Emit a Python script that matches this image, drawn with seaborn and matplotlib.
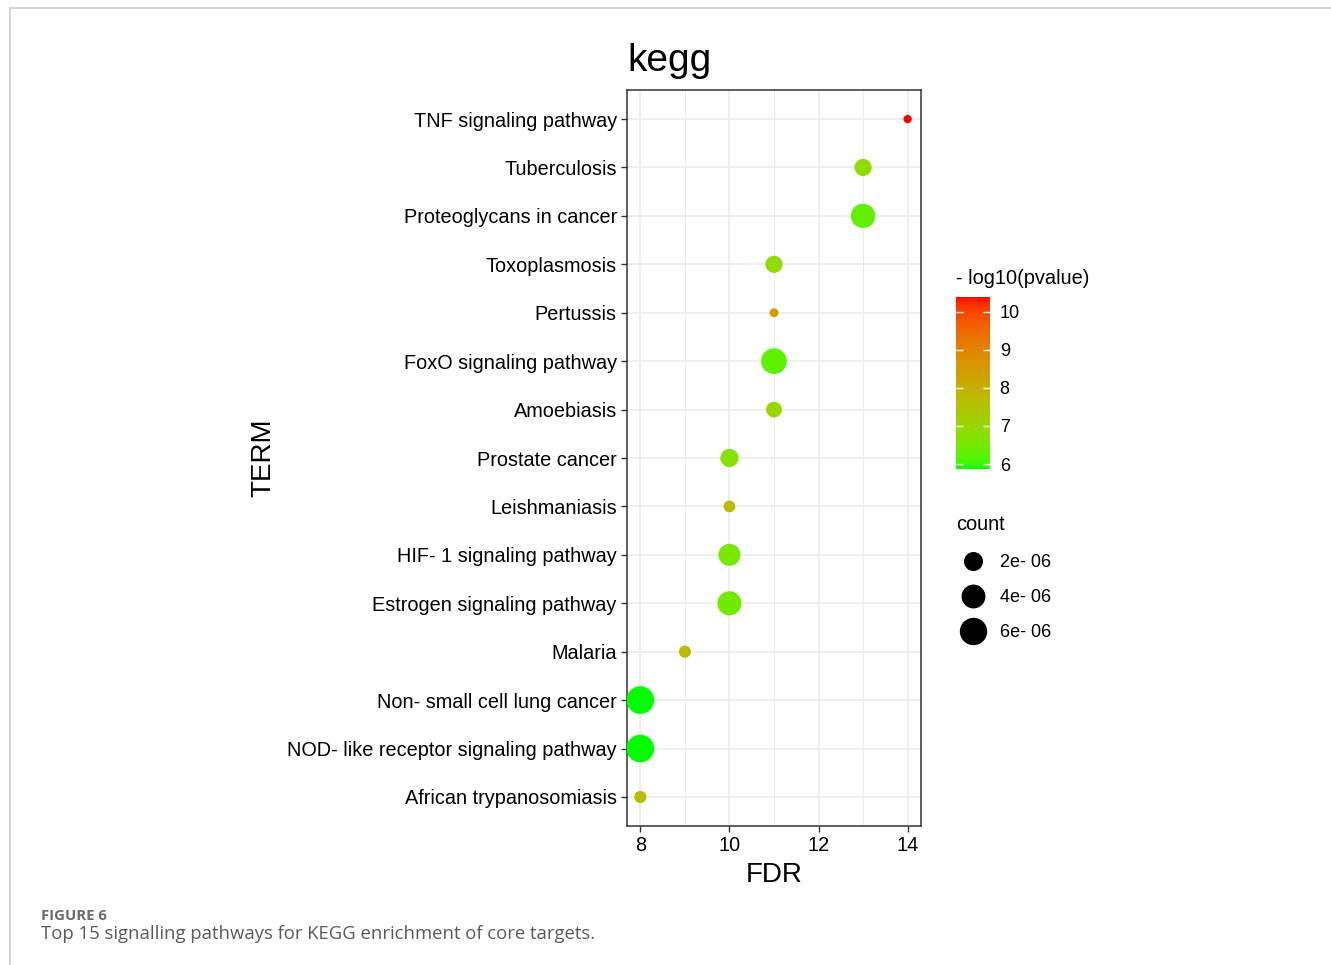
import numpy as np
import pandas as pd
import matplotlib
matplotlib.use("Agg")
import matplotlib.pyplot as plt
import matplotlib.colors as mcolors
from matplotlib.lines import Line2D
from matplotlib.ticker import MultipleLocator
import seaborn as sns

# ---- data (top to bottom) ----
terms = ["TNF signaling pathway", "Tuberculosis", "Proteoglycans in cancer",
         "Toxoplasmosis", "Pertussis", "FoxO signaling pathway", "Amoebiasis",
         "Prostate cancer", "Leishmaniasis", "HIF- 1 signaling pathway",
         "Estrogen signaling pathway", "Malaria", "Non- small cell lung cancer",
         "NOD- like receptor signaling pathway", "African trypanosomiasis"]
fdr = [14, 13, 13, 11, 11, 11, 11, 10, 10, 10, 10, 9, 8, 8, 8]
neglog_p = [10.39, 6.85, 6.3, 6.9, 8.5, 6.25, 6.95, 6.7, 7.7, 6.55, 6.45, 7.7, 5.87, 5.87, 7.7]
count = [0.02e-6, 1.43e-6, 4.27e-6, 1.43e-6, 0.06e-6, 5.02e-6, 1.07e-6, 1.74e-6,
         0.33e-6, 3.17e-6, 4.12e-6, 0.39e-6, 6.2e-6, 6.2e-6, 0.39e-6]
count_breaks = [2e-6, 4e-6, 6e-6]
count_labels = ["2e- 06", "4e- 06", "6e- 06"]
color_ticks = [6, 7, 8, 9, 10]

df = pd.DataFrame({"TERM": terms, "FDR": fdr, "nlp": neglog_p, "count": count})


# green -> red gradient interpolated in CIELAB (like ggplot's scale_colour_gradient)
M = np.array([[0.4124, 0.3576, 0.1805], [0.2126, 0.7152, 0.0722], [0.0193, 0.1192, 0.9505]])
WHITE = np.array([0.95047, 1.0, 1.08883])

def to_lab(rgb):
    c = np.asarray(rgb, float)
    c = np.where(c > 0.04045, ((c + 0.055) / 1.055) ** 2.4, c / 12.92)
    xyz = M @ c / WHITE
    f = np.where(xyz > 0.008856, np.cbrt(xyz), 7.787 * xyz + 16 / 116)
    return np.array([116 * f[1] - 16, 500 * (f[0] - f[1]), 200 * (f[1] - f[2])])

def from_lab(lab):
    L, a, b = lab
    fy = (L + 16) / 116
    f = np.array([fy + a / 500, fy, fy - b / 200])
    xyz = np.where(f ** 3 > 0.008856, f ** 3, (f - 16 / 116) / 7.787) * WHITE
    c = np.linalg.solve(M, xyz)
    c = np.clip(c, 0, 1)
    c = np.where(c > 0.0031308, 1.055 * c ** (1 / 2.4) - 0.055, 12.92 * c)
    return np.clip(c, 0, 1)

lab_lo, lab_hi = to_lab([0, 1, 0]), to_lab([1, 0, 0])
cmap = mcolors.ListedColormap([from_lab(lab_lo + t * (lab_hi - lab_lo)) for t in np.linspace(0, 1, 256)])
hue_norm = mcolors.Normalize(vmin=min(neglog_p), vmax=max(neglog_p))
size_norm = mcolors.PowerNorm(gamma=0.75, vmin=0, vmax=max(count))
size_range = (30.6, 397.6)

plt.rcParams["font.family"] = ["Liberation Sans", "DejaVu Sans"]

fig = plt.figure(figsize=(13.31, 9.65), dpi=100)
ax = fig.add_axes([627 / 1331, 1 - 826 / 965, 294 / 1331, 736 / 965])

sns.scatterplot(data=df, x="FDR", y="TERM", hue="nlp", palette=cmap, hue_norm=hue_norm,
                size="count", sizes=size_range, size_norm=size_norm,
                linewidth=0, legend=False, ax=ax, zorder=3)

ax.set_xlim(7.7, 14.3)
ax.set_ylim(len(terms) - 0.4, -0.6)
ax.set_xticks([8, 10, 12, 14])
ax.xaxis.set_minor_locator(MultipleLocator(1))
ax.set_axisbelow(True)
ax.grid(True, which="major", color="#EBEBEB", lw=1.2)
ax.grid(True, which="minor", axis="x", color="#EBEBEB", lw=0.7)
ax.tick_params(which="minor", length=0)
ax.tick_params(which="major", length=4.3, width=1, color="#333333", labelsize=14.3,
               labelcolor="black", pad=3)
for s in ax.spines.values():
    s.set_color("#333333")
    s.set_linewidth(1.1)
ax.set_xlabel("FDR", fontsize=20, labelpad=5)
ax.set_ylabel("TERM", fontsize=20, labelpad=8)
ax.set_title("kegg", loc="left", fontsize=28, pad=14)

# colour bar
fig.text(956 / 1331, 1 - 278 / 965, "- log10(pvalue)", fontsize=14.4, va="center", ha="left")
cax = fig.add_axes([956 / 1331, 1 - 469 / 965, 34 / 1331, 172 / 965])
sm = plt.cm.ScalarMappable(norm=hue_norm, cmap=cmap)
cb = fig.colorbar(sm, cax=cax, ticks=color_ticks)
cb.outline.set_visible(False)
cax.tick_params(axis="y", direction="in", color="white", width=1, length=5,
                left=True, right=True, labelsize=13, pad=7)

# size legend
fig.text(956 / 1331, 1 - 525 / 965, "count", fontsize=14.4, va="center", ha="left")
handles = [Line2D([], [], marker="o", linestyle="", markeredgewidth=0, markerfacecolor="black",
                  markersize=np.sqrt(size_range[0] + (size_range[1] - size_range[0]) * float(size_norm(v))))
           for v in count_breaks]
leg = fig.legend(handles, count_labels, loc="upper left",
                 bbox_to_anchor=(946 / 1331, 1 - 545 / 965), frameon=False, fontsize=13,
                 labelspacing=1.0, handletextpad=0.5, borderpad=0, handlelength=2.0)

# caption and page frame
fig.add_artist(Line2D([10 / 1331, 1], [1 - 8 / 965, 1 - 8 / 965], color="#CCCCCC", lw=1.2))
fig.add_artist(Line2D([10 / 1331, 10 / 1331], [0, 1 - 8 / 965], color="#CCCCCC", lw=1.2))
fig.text(41 / 1331, 1 - 916 / 965, "FIGURE 6", fontsize=10.7, fontweight="bold", color="#6B6B6B",
         va="center", family=["Open Sans", "DejaVu Sans"])
fig.text(41 / 1331, 1 - 934 / 965, "Top 15 signalling pathways for KEGG enrichment of core targets.",
         fontsize=13.3, color="#5A5A5A", va="center", family=["Open Sans", "DejaVu Sans"])

fig.savefig("out.png", dpi=100)
